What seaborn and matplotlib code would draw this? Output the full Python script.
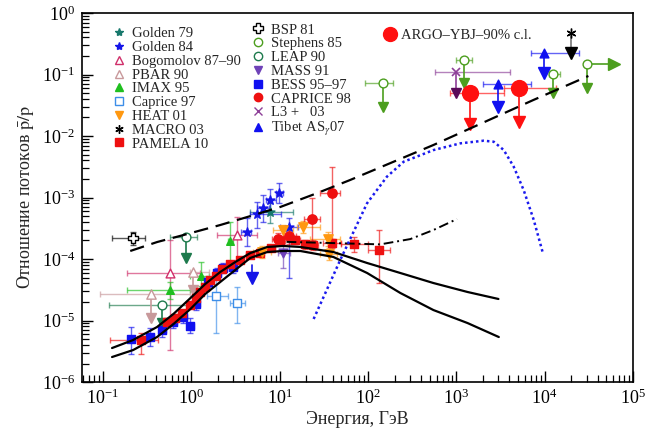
import numpy as np
import matplotlib
matplotlib.use('Agg')
import matplotlib.pyplot as plt
from matplotlib.lines import Line2D
from matplotlib.colors import to_rgba
from matplotlib.ticker import LogLocator, FixedLocator, NullFormatter
import seaborn as sns

# ---------------- theory curves (E in GeV, ratio pbar/p) ----------------
sec_hi_E = [0.127, 0.22, 0.41, 0.63, 0.98, 1.44, 2.13, 3.15, 4.66, 7.26, 11.0, 17.2, 40.6, 98, 233, 551, 1340, 3000]
sec_hi_R = [3.57e-6, 4.82e-6, 7.84e-6, 1.28e-5, 2.32e-5, 3.92e-5, 6.15e-5, 8.93e-5, 1.25e-4, 1.57e-4,
            1.63e-4, 1.57e-4, 1.30e-4, 8.61e-5, 5.92e-5, 4.07e-5, 2.91e-5, 2.24e-5]
sec_lo_E = [0.127, 0.22, 0.41, 0.63, 0.98, 1.44, 2.13, 3.15, 4.66, 7.26, 11.0, 17.2, 40.6, 98, 233, 551, 1340, 3030]
sec_lo_R = [2.55e-6, 3.31e-6, 5.39e-6, 8.77e-6, 1.54e-5, 2.70e-5, 4.23e-5, 6.63e-5, 1.04e-4, 1.30e-4,
            1.35e-4, 1.35e-4, 1.08e-4, 5.92e-5, 2.80e-5, 1.48e-5, 9.10e-6, 5.39e-6]
dot_E = [24.3, 48.6, 97.7, 164, 254, 555, 1112, 2042, 2655, 3443, 4467, 5794, 7534, 9616]
dot_R = [1.06e-5, 9.64e-5, 8.05e-4, 2.18e-3, 3.82e-3, 5.92e-3, 7.60e-3, 8.39e-3, 8.07e-3, 5.92e-3,
         3.17e-3, 1.32e-3, 4.31e-4, 1.21e-4]
dash_E = [0.204, 0.412, 0.814, 2.13, 4.31, 10.2, 26.7, 63.1, 551, 7460, 31300]
dash_R = [1.35e-4, 1.89e-4, 2.45e-4, 3.57e-4, 4.82e-4, 7.02e-4, 1.18e-3, 1.93e-3, 7.14e-3, 0.0385, 0.0946]
dd_E = [12, 38, 138, 302, 551, 1020]
dd_R = [1.9e-4, 1.82e-4, 1.73e-4, 2.11e-4, 2.96e-4, 4.47e-4]

# ---------------- measurements ----------------
pam_E = [0.272, 0.535, 0.659, 0.791, 0.974, 1.14, 1.26, 1.44, 1.64, 1.92, 2.24, 2.77, 3.59, 4.66, 6.04, 8.05,
         10.2, 15.1, 19.5, 24.1, 39.6, 70.2, 135]
pam_R = [4.82e-6, 9.46e-6, 1.10e-5, 1.32e-5, 1.79e-5, 2.32e-5, 2.91e-5, 3.51e-5, 4.56e-5, 5.30e-5, 6.88e-5,
         8.30e-5, 9.64e-5, 1.16e-4, 1.25e-4, 1.51e-4, 1.96e-4, 2.04e-4, 1.75e-4, 1.69e-4, 1.82e-4, 1.75e-4, 1.40e-4]
pam_Elo = [0.12, 0.50, 0.61, 0.73, 0.90, 1.05, 1.17, 1.34, 1.52, 1.78, 2.07, 2.55, 3.3, 4.2, 5.4, 7.2, 9.0,
           13.2, 17.5, 21.5, 31, 50, 99]
pam_Ehi = [0.42, 0.57, 0.71, 0.85, 1.05, 1.22, 1.36, 1.55, 1.78, 2.07, 2.42, 3.0, 3.9, 5.1, 6.6, 8.9, 11.5,
           17.0, 21.5, 27, 50, 99, 176]
pam_Rlo = [2.9e-6, 8.0e-6, 9.5e-6, 1.15e-5, 1.6e-5, 2.08e-5, 2.62e-5, 3.17e-5, 4.12e-5, 4.8e-5, 6.2e-5, 7.5e-5,
           8.7e-5, 1.04e-4, 1.11e-4, 1.34e-4, 1.72e-4, 1.77e-4, 1.48e-4, 1.42e-4, 1.50e-4, 1.31e-4, 4.0e-5]
pam_Rhi = [6.2e-6, 1.1e-5, 1.26e-5, 1.5e-5, 2.0e-5, 2.57e-5, 3.21e-5, 3.87e-5, 5.0e-5, 5.8e-5, 7.6e-5, 9.2e-5,
           1.06e-4, 1.28e-4, 1.40e-4, 1.68e-4, 2.22e-4, 2.33e-4, 2.05e-4, 2.0e-4, 2.15e-4, 2.28e-4, 2.96e-4]

bess_E = [0.209, 0.344, 0.470, 0.625, 0.812, 0.974, 1.14, 1.56, 1.97, 2.30, 2.99]
bess_R = [5.0e-6, 5.39e-6, 7.0e-6, 9.46e-6, 1.14e-5, 8.14e-6, 1.85e-5, 4.23e-5, 5.92e-5, 7.14e-5, 7.42e-5]
bess_Elo = [0.19, 0.31, 0.43, 0.57, 0.74, 0.89, 1.04, 1.42, 1.79, 2.09, 2.72]
bess_Ehi = [0.23, 0.38, 0.52, 0.69, 0.89, 1.07, 1.25, 1.72, 2.17, 2.53, 3.29]
bess_Rlo = [2.9e-6, 3.8e-6, 5.4e-6, 7.5e-6, 9.2e-6, 6.2e-6, 1.5e-5, 3.5e-5, 4.9e-5, 5.9e-5, 6.0e-5]
bess_Rhi = [7.9e-6, 7.5e-6, 9.0e-6, 1.2e-5, 1.4e-5, 1.1e-5, 2.3e-5, 5.1e-5, 7.1e-5, 8.6e-5, 9.0e-5]

g84_E = [4.31, 5.59, 6.51, 7.86, 9.93, 12.9]
g84_R = [2.75e-4, 5.39e-4, 6.75e-4, 9.1e-4, 1.18e-3, 3.31e-4]
g84_Elo = [3.7, 4.6, 5.6, 7.0, 9.0, 10.0]
g84_Ehi = [4.7, 10.5, 7.5, 9.0, 11.0, 16.0]
g84_Rlo = [1.6e-4, 3.2e-4, 4.0e-4, 6.0e-4, 8.0e-4, 4.9e-5]
g84_Rhi = [4.6e-4, 8.5e-4, 1.1e-3, 1.35e-3, 1.7e-3, 4.6e-4]
g84ul_E, g84ul_R, g84ul_tip = [4.91], [7.98e-5], [4.9e-5]

g79_E, g79_R = [7.86], [5.81e-4]
g79_Elo, g79_Ehi, g79_Rlo, g79_Rhi = [4.66], [14.3], [3.85e-4], [8.14e-4]

bog_E, bog_R = [0.578, 3.32], [5.85e-5, 2.45e-4]
bog_Elo, bog_Ehi = [0.187, 1.95], [1.26, 5.55]
bog_Rlo, bog_Rhi = [3.31e-6, 9.64e-5], [2.04e-4, 4.87e-4]

pbar_E, pbar_R = [0.352, 1.06], [2.70e-5, 6.21e-5]
pbar_Elo, pbar_Ehi, pbar_tip = [0.093, 0.974], [0.974, 1.57], [1.1e-5, 3.13e-5]

imax_E, imax_R = [0.578, 1.30, 2.77], [3.13e-5, 5.3e-5, 1.99e-4]
imax_Elo, imax_Ehi = [0.187, 0.97, 2.6], [0.974, 1.6, 3.0]
imax_Rlo, imax_Rhi = [2.2e-5, 3.6e-5, 8.5e-5], [4.3e-5, 9.0e-5, 4.04e-4]

cap97_E, cap97_R = [1.92, 3.29], [2.53e-5, 1.90e-5]
cap97_Elo, cap97_Ehi = [1.51, 2.77], [2.64, 4.09]
cap97_Rlo, cap97_Rhi = [6.19e-6, 9.0e-6], [4.91e-5, 3.55e-5]

heat_E, heat_R = [6.37, 11.0, 18.5, 35.6, 36.5], [1.30e-4, 2.96e-4, 3.31e-4, 2.11e-4, 1.21e-4]
heat_Elo, heat_Ehi = [5.0, 8.5, 15.7, 22, 29], [8.0, 14.3, 28.9, 48, 45]
heat_Rlo, heat_Rhi = [1.05e-4, 2.3e-4, 2.6e-4, 1.6e-4, 0.95e-4], [1.6e-4, 3.6e-4, 4.2e-4, 2.7e-4, 1.5e-4]

mass_E, mass_R = [11.0], [1.25e-4]
mass_Elo, mass_Ehi, mass_Rlo, mass_Rhi = [9.5], [13.0], [7.06e-5], [1.69e-4]

cap98_E, cap98_R = [9.66, 12.9, 23.4, 39.5], [2.11e-4, 2.37e-4, 4.47e-4, 1.18e-3]
cap98_Elo, cap98_Ehi = [8.2, 11.0, 18.7, 28.9], [11.0, 15.5, 28.9, 48.6]
cap98_Rlo, cap98_Rhi = [1.7e-4, 1.75e-4, 1.80e-4, 1.82e-4], [2.6e-4, 3.3e-4, 9.7e-4, 3.17e-3]

bsp_E, bsp_R = [0.219], [2.17e-4]
bsp_Elo, bsp_Ehi, bsp_Rlo, bsp_Rhi = [0.126], [0.301], [1.69e-4], [2.78e-4]

leap_E, leap_R = [0.466, 0.871], [1.79e-5, 2.31e-4]
leap_Elo, leap_Ehi, leap_tip = [0.116, 0.578], [0.894, 1.16], [9.1e-6, 1.05e-4]

steph_E, steph_R = [149, 1236, 12470, 30300], [0.0719, 0.172, 0.102, 0.1465]
steph_Elo, steph_Ehi = [93.5, 1002, 11100, 30300], [194, 1510, 15100, 30300]
steph_tip = [0.0296, 0.0728, 0.0495, 0.0597]
steph_right = 60500

macro_E, macro_R, macro_tip = [19950], [0.478], [0.221]

l3_E, l3_R, l3_Elo, l3_Ehi, l3_tip = [1002], [0.111], [580], [4030], [0.0506]

tib_E, tib_R = [2945, 9950], [0.0701, 0.221]
tib_Elo, tib_Ehi, tib_tip = [2010, 7030], [7030, 24800], [0.030, 0.1047]

argo_E, argo_R = [1419, 5090], [0.0495, 0.0597]
argo_Elo, argo_Ehi, argo_tip = [841, 3440], [3440, 13600], [0.0157, 0.0171]

x_ticks = [0.1, 1, 10, 100, 1e3, 1e4, 1e5]
y_ticks = [1e-6, 1e-5, 1e-4, 1e-3, 1e-2, 1e-1, 1]

# colours
c_g79, c_g84, c_bog, c_pbar = '#17786c', '#1515e8', '#d02f6a', '#c8999b'
c_imax, c_cap97, c_heat, c_pam = '#1fbf1f', '#3d8ee8', '#ff9810', '#ee1010'
c_steph, c_leap, c_mass, c_bess = '#4c9e1e', '#1d7a4c', '#6f42b8', '#1010f0'
c_l3, c_tib, c_argo = '#8d3f98', '#1010f0', '#ff1010'

sns.set_style('ticks')
plt.rcParams['font.family'] = ['Liberation Serif', 'DejaVu Serif']
plt.rcParams['mathtext.fontset'] = 'stix'

fig = plt.figure(figsize=(6.59, 4.32), dpi=100)
ax = fig.add_axes([0.1244, 0.1157, 0.8361, 0.8542])
ax.set_xscale('log')
ax.set_yscale('log')


def errs(E, R, Elo, Ehi, Rlo, Rhi, color, z=3):
    E = np.asarray(E, float)
    R = np.asarray(R, float)
    xerr = None if Elo is None else [E - np.asarray(Elo), np.asarray(Ehi) - E]
    yerr = None if Rlo is None else [R - np.asarray(Rlo), np.asarray(Rhi) - R]
    ax.errorbar(E, R, xerr=xerr, yerr=yerr, fmt='none', ecolor=to_rgba(color, 0.65),
                elinewidth=1.0, capsize=2, capthick=1.0, zorder=z)


def marks(E, R, marker, color, s=30, open_=False, lw=1.0, z=5):
    sns.scatterplot(x=E, y=R, marker=marker, s=s, color=color,
                    facecolor='white' if open_ else color, edgecolor=color,
                    linewidth=lw, ax=ax, zorder=z, legend=False)


def arrows(E, R, tip, color, stem=None, ms=7, z=4):
    for e, r, t in zip(E, R, tip):
        ax.plot([e, e], [r, t], color=stem or color, lw=1.2, zorder=z)
    ax.plot(E, tip, 'v', color=color, ms=ms, zorder=z + 0.5)


# theory curves
sns.lineplot(x=sec_hi_E, y=sec_hi_R, color='black', lw=1.6, sort=False, estimator=None, ax=ax, zorder=7)
sns.lineplot(x=sec_lo_E, y=sec_lo_R, color='black', lw=1.6, sort=False, estimator=None, ax=ax, zorder=7)
sns.lineplot(x=dash_E, y=dash_R, color='black', lw=1.6, linestyle=(0, (6.5, 3.5)), sort=False,
             estimator=None, ax=ax, zorder=7)
sns.lineplot(x=dd_E, y=dd_R, color='black', lw=1.4, linestyle=(0, (5, 2, 1, 2)), sort=False,
             estimator=None, ax=ax, zorder=7)
sns.lineplot(x=dot_E, y=dot_R, color='#1a1aee', lw=1.8, linestyle=(0, (1, 1.2)), sort=False,
             estimator=None, ax=ax, zorder=7)

# data sets
errs(bog_E, bog_R, bog_Elo, bog_Ehi, bog_Rlo, bog_Rhi, c_bog)
marks(bog_E, bog_R, '^', c_bog, s=40, open_=True)
errs(imax_E, imax_R, imax_Elo, imax_Ehi, imax_Rlo, imax_Rhi, c_imax)
marks(imax_E, imax_R, '^', c_imax, s=30)
errs(pbar_E, pbar_R, pbar_Elo, pbar_Ehi, None, None, c_pbar)
arrows(pbar_E, pbar_R, pbar_tip, c_pbar)
marks(pbar_E, pbar_R, '^', c_pbar, s=45, open_=True)
errs(leap_E, leap_R, leap_Elo, leap_Ehi, None, None, c_leap)
arrows(leap_E, leap_R, leap_tip, c_leap)
marks(leap_E, leap_R, 'o', c_leap, s=40, open_=True)
errs(bsp_E, bsp_R, bsp_Elo, bsp_Ehi, bsp_Rlo, bsp_Rhi, 'black')
marks(bsp_E, bsp_R, 'P', 'black', s=55, open_=True)
errs(cap97_E, cap97_R, cap97_Elo, cap97_Ehi, cap97_Rlo, cap97_Rhi, c_cap97)
marks(cap97_E, cap97_R, 's', c_cap97, s=40, open_=True)
errs(bess_E, bess_R, bess_Elo, bess_Ehi, bess_Rlo, bess_Rhi, c_bess)
marks(bess_E, bess_R, 's', c_bess, s=38)
errs(pam_E, pam_R, pam_Elo, pam_Ehi, pam_Rlo, pam_Rhi, c_pam)
marks(pam_E, pam_R, 's', c_pam, s=38)
errs(g79_E, g79_R, g79_Elo, g79_Ehi, g79_Rlo, g79_Rhi, c_g79)
marks(g79_E, g79_R, '*', c_g79, s=45)
errs(g84_E, g84_R, g84_Elo, g84_Ehi, g84_Rlo, g84_Rhi, c_g84)
marks(g84_E, g84_R, '*', c_g84, s=45)
arrows(g84ul_E, g84ul_R, g84ul_tip, c_g84, ms=9)
errs(heat_E, heat_R, heat_Elo, heat_Ehi, heat_Rlo, heat_Rhi, c_heat)
marks(heat_E, heat_R, 'v', c_heat, s=45)
errs(mass_E, mass_R, mass_Elo, mass_Ehi, mass_Rlo, mass_Rhi, c_mass)
marks(mass_E, mass_R, 'v', c_mass, s=40)
errs(cap98_E, cap98_R, cap98_Elo, cap98_Ehi, cap98_Rlo, cap98_Rhi, c_pam)
marks(cap98_E, cap98_R, 'o', c_pam, s=45)

# high-energy limits
errs(steph_E, steph_R, steph_Elo, steph_Ehi, None, None, c_steph)
arrows(steph_E, steph_R, steph_tip, c_steph)
ax.plot([steph_E[-1], steph_right], [steph_R[-1]] * 2, color=c_steph, lw=1.2, zorder=4)
ax.plot([steph_right], [steph_R[-1]], '>', color=c_steph, ms=8, zorder=4.5)
marks(steph_E, steph_R, 'o', c_steph, s=40, open_=True)
errs(l3_E, l3_R, l3_Elo, l3_Ehi, None, None, c_l3)
arrows(l3_E, l3_R, l3_tip, '#5a0a5a', stem=c_l3)
ax.plot(l3_E, l3_R, 'x', color=c_l3, ms=6, mew=1.2, zorder=5)
errs(tib_E, tib_R, tib_Elo, tib_Ehi, None, None, c_tib)
arrows(tib_E, tib_R, tib_tip, c_tib, ms=8)
marks(tib_E, tib_R, '^', c_tib, s=40)
arrows(macro_E, macro_R, macro_tip, 'black', stem='#777777', ms=8)
ax.plot(macro_E, macro_R, marker=(6, 2, 0), color='black', ms=7, mew=1.0, ls='none', zorder=5)
errs(argo_E, argo_R, argo_Elo, argo_Ehi, None, None, c_argo)
arrows(argo_E, argo_R, argo_tip, c_argo, ms=9)
marks(argo_E, argo_R, 'o', c_argo, s=130)

# axes
ax.set_xlim(0.058, 1e5)
ax.set_ylim(1e-6, 1)
ax.xaxis.set_major_locator(FixedLocator(x_ticks))
ax.yaxis.set_major_locator(FixedLocator(y_ticks))
for axis in (ax.xaxis, ax.yaxis):
    axis.set_minor_locator(LogLocator(base=10, subs=np.arange(2, 10), numticks=20))
    axis.set_minor_formatter(NullFormatter())
ax.tick_params(which='both', direction='in', top=False, right=False, colors='black')
ax.tick_params(which='major', length=8, width=1.0, labelsize=13, pad=5)
ax.tick_params(which='minor', length=5, width=0.9)
for sp in ax.spines.values():
    sp.set_linewidth(1.2)
    sp.set_color('black')
ax.set_xlabel('Энергия, ГэВ', fontsize=13, labelpad=2)
ax.set_ylabel(r'Отношение потоков $\bar{\mathrm{p}}/\mathrm{p}$', fontsize=13, labelpad=4)


# legends
def h(marker, color, ms=6, open_=False, mew=1.0):
    return Line2D([], [], ls='none', marker=marker, ms=ms, color=color,
                  mfc='white' if open_ else color, mec=color, mew=mew)


left_h = [h('*', c_g79, 6), h('*', c_g84, 6), h('^', c_bog, 6, True), h('^', c_pbar, 6, True),
          h('^', c_imax, 6), h('s', c_cap97, 6, True), h('v', c_heat, 6), h((6, 2, 0), 'black', 6),
          h('s', c_pam, 6)]
left_l = ['Golden 79', 'Golden 84', 'Bogomolov 87–90', 'PBAR 90', 'IMAX 95', 'Caprice 97', 'HEAT 01',
          'MACRO 03', 'PAMELA 10']
right_h = [h('P', 'black', 7, True), h('o', c_steph, 6, True), h('o', c_leap, 6, True), h('v', c_mass, 6),
           h('s', c_bess, 6), h('o', c_pam, 6), h('x', c_l3, 6), h('^', c_tib, 6)]
right_l = ['BSP 81', 'Stephens 85', 'LEAP 90', 'MASS 91', 'BESS 95–97', 'CAPRICE 98', 'L3 +   03',
           r'Tibet AS$_{\gamma}$07']

common = dict(loc='upper left', frameon=False, fontsize=10.5, borderpad=0, borderaxespad=0,
              handlelength=1.0, labelspacing=0.04)
leg1 = ax.legend(left_h, left_l, bbox_to_anchor=(0.054, 0.962), handletextpad=0.42, **common)
ax.add_artist(leg1)
leg2 = ax.legend(right_h, right_l, bbox_to_anchor=(0.306, 0.972), handletextpad=0.42, **common)
ax.add_artist(leg2)
leg3 = ax.legend([h('o', c_argo, 10)], ['ARGO–YBJ–90% c.l.'], bbox_to_anchor=(0.546, 0.958),
                 handletextpad=0.25, **common)

fig.savefig('out.png', dpi=100)
